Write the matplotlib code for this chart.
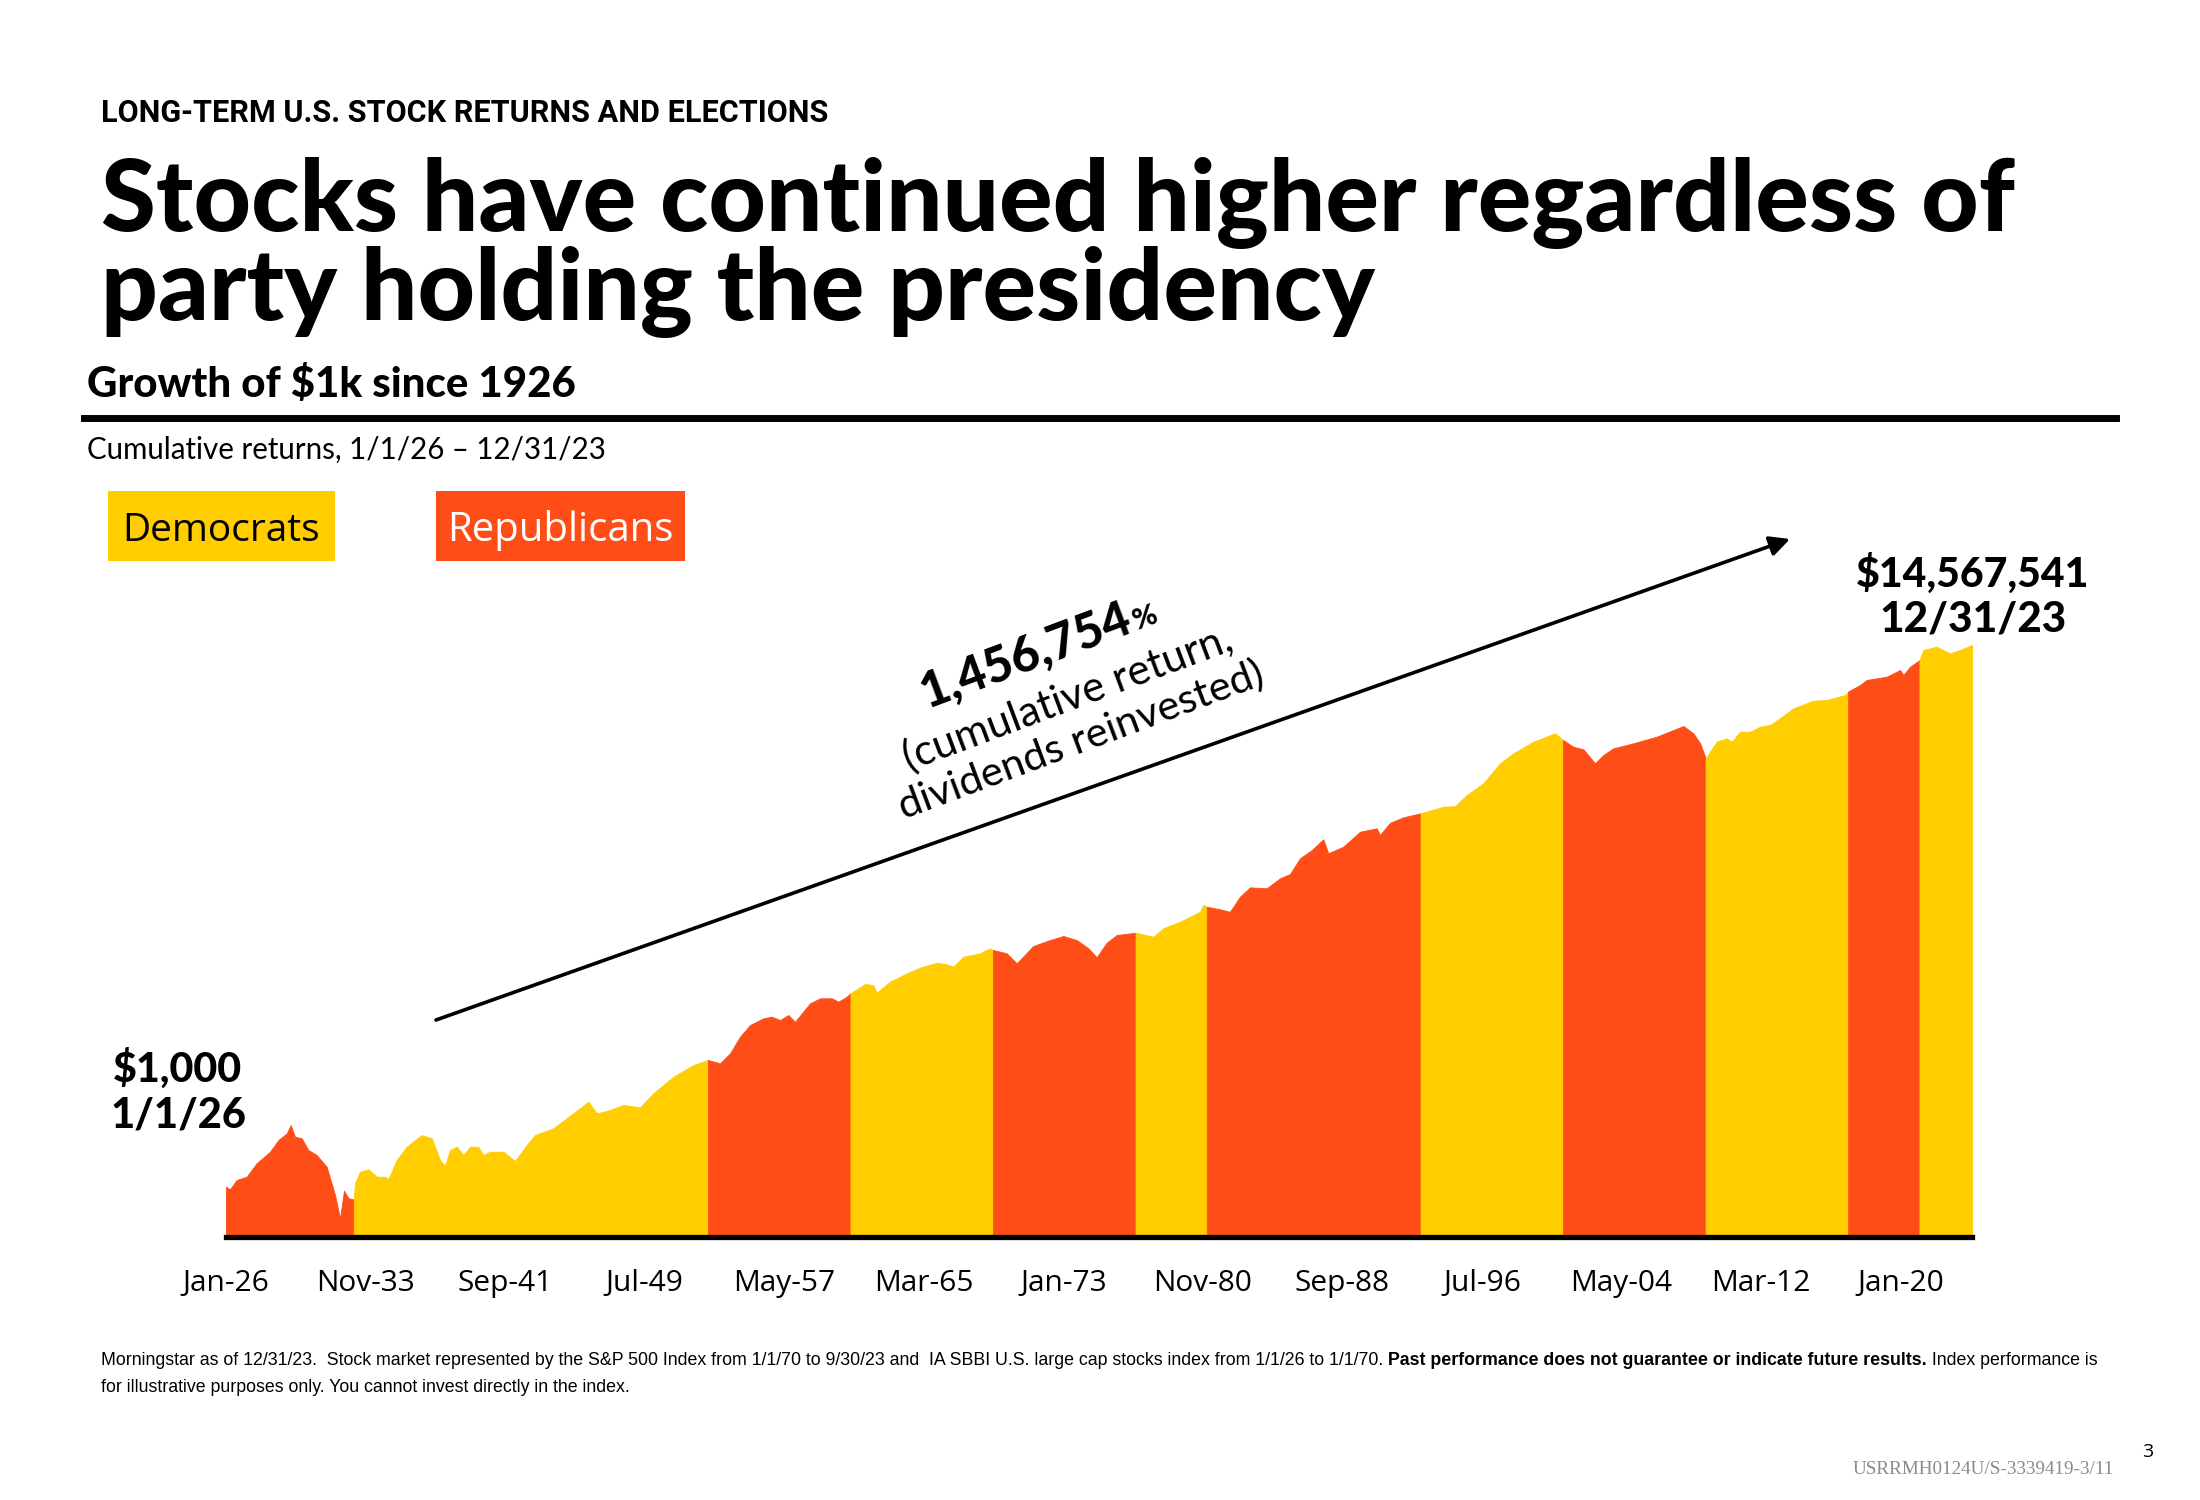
import numpy as np
import matplotlib
matplotlib.use("Agg")
import matplotlib.pyplot as plt
from matplotlib.patches import Rectangle, FancyArrowPatch
from matplotlib.lines import Line2D

# growth of $1k (decimal year, dollars)
years = np.array([
    1926.00, 1926.22, 1926.60, 1927.16, 1927.72, 1928.47, 1928.94, 1929.41, 1929.63, 1929.87,
    1930.25, 1930.62, 1931.09, 1931.65, 1932.12, 1932.40, 1932.62, 1932.87, 1933.17,
    1933.24, 1933.52, 1933.99, 1934.46, 1934.92, 1935.11, 1935.58, 1936.14, 1936.98, 1937.55,
    1938.01, 1938.29, 1938.57, 1938.95, 1939.32, 1939.70, 1940.16, 1940.44, 1940.82, 1941.57,
    1942.22, 1942.88, 1943.34, 1944.37, 1945.12, 1945.87, 1946.34, 1946.81, 1947.37, 1948.30,
    1949.24, 1949.98, 1951.11, 1952.23, 1953.05,
    1953.73, 1954.29, 1954.85, 1955.41, 1956.16, 1956.63, 1957.10, 1957.56, 1957.94, 1958.78,
    1959.34, 1960.00, 1960.37, 1960.84, 1961.05,
    1961.87, 1962.33, 1962.52, 1963.27, 1964.21, 1964.95, 1965.89, 1966.45, 1966.82, 1967.38,
    1968.32, 1968.88, 1969.05,
    1969.82, 1970.38, 1971.31, 1972.25, 1973.00, 1973.75, 1974.40, 1974.87, 1975.43, 1976.00,
    1977.05,
    1978.05, 1978.61, 1979.55, 1980.67, 1980.86, 1981.05,
    1981.79, 1982.35, 1982.91, 1983.48, 1984.41, 1985.16, 1985.72, 1986.28, 1986.94, 1987.59,
    1987.87, 1988.71, 1989.65, 1990.59, 1990.77, 1991.34, 1992.08, 1993.05,
    1994.33, 1994.98, 1995.64, 1996.57, 1997.51, 1998.26, 1999.38, 2000.60, 2001.05,
    2001.62, 2002.19, 2002.84, 2003.31, 2003.87, 2004.99, 2006.30, 2007.24, 2007.80, 2008.36,
    2008.74, 2009.05,
    2009.11, 2009.67, 2010.23, 2010.51, 2010.98, 2011.54, 2012.10, 2012.66, 2013.22, 2013.97,
    2015.09, 2015.84, 2016.87, 2017.05,
    2017.71, 2018.08, 2018.65, 2019.21, 2019.96, 2020.15, 2020.52, 2020.80, 2021.05,
    2021.27, 2022.01, 2022.76, 2023.32, 2024.00,
])
values = np.array([
    1000, 955, 1126, 1194, 1514, 1858, 2285, 2572, 2979, 2422,
    2355, 1914, 1753, 1425, 863, 571, 932, 815, 800,
    1062, 1304, 1360, 1194, 1194, 1140, 1604, 2028, 2494, 2355,
    1604, 1443, 1914, 2028, 1753, 2028, 2028, 1753, 1858, 1858,
    1576, 2092, 2494, 2811, 3357, 4008, 4502, 3666, 3818, 4245,
    4078, 5224, 7006, 8610, 9419,
    8883, 10600, 14220, 17490, 19690, 20270, 19100, 20870, 18520, 25690,
    28060, 28060, 26420, 28870, 30660,
    36140, 35500, 30970, 37640, 43650, 48190, 52700, 51200, 49080, 58610,
    62230, 68000, 66000,
    62230, 52130, 70830, 78700, 84530, 78700, 68000, 57980, 75060, 86050,
    89560,
    83470, 96880, 108800, 129900, 146300, 141900,
    135600, 129900, 169400, 200000, 196700, 234700, 253200, 334200, 387100, 467900,
    365200, 410600, 535500, 568600, 504700, 627500, 690400, 741300,
    833400, 841000, 1025000, 1261000, 1797000, 2145000, 2633000, 3055000, 2713000,
    2410000, 2301000, 1797000, 2081000, 2343000, 2560000, 2877000, 3239000, 3476000, 3055000,
    2560000, 1963000,
    2019000, 2633000, 2797000, 2633000, 3141000, 3141000, 3433000, 3539000, 3984000, 4754000,
    5440000, 5510000, 6012000, 6400000,
    7180000, 7850000, 8087000, 8318000, 9366000, 8570000, 9935000, 10550000, 11170000,
    13340000, 14150000, 12590000, 13340000, 14567541,
])

# party holding the presidency
term_starts = [1926.00, 1933.17, 1953.05, 1961.05, 1969.05, 1977.05, 1981.05,
               1993.05, 2001.05, 2009.05, 2017.05, 2021.05]
term_ends = term_starts[1:] + [2024.00]
term_party = ["R", "D", "R", "D", "R", "D", "R", "D", "R", "D", "R", "D"]

tick_labels = ["Jan-26", "Nov-33", "Sep-41", "Jul-49", "May-57", "Mar-65", "Jan-73",
               "Nov-80", "Sep-88", "Jul-96", "May-04", "Mar-12", "Jan-20"]

YELLOW = "#FFCD00"
RED = "#FF4D17"
party_color = {"D": YELLOW, "R": RED}

MONTHS = ["Jan", "Feb", "Mar", "Apr", "May", "Jun", "Jul", "Aug", "Sep", "Oct", "Nov", "Dec"]

HEAVY = ["Lato Black", "Lato"]
NARROW = ["Liberation Sans Narrow", "Liberation Sans"]


def label_to_year(lab):
    mon, yy = lab.split("-")
    yy = int(yy)
    year = 1900 + yy if yy >= 26 else 2000 + yy
    return year + MONTHS.index(mon) / 12


W, H = 2200, 1500


def fx(x):
    return x / W


def fy(y):
    return 1 - y / H


fig = plt.figure(figsize=(22, 15), dpi=100)
fig.patch.set_facecolor("white")
renderer = fig.canvas.get_renderer()


def fit(t, width):
    w = t.get_window_extent(renderer).width
    t.set_fontsize(t.get_fontsize() * width / w)
    return t


# header
fit(fig.text(fx(101), fy(122), "LONG-TERM U.S. STOCK RETURNS AND ELECTIONS",
             family="Roboto", weight="bold", size=19, va="baseline"), 727)
t1 = fit(fig.text(fx(101), fy(231), "Stocks have continued higher regardless of",
                  family=HEAVY, weight="black", size=66, va="baseline"), 1913)
fig.text(fx(101), fy(320), "party holding the presidency",
         family=HEAVY, weight="black", size=t1.get_fontsize(), va="baseline")
fit(fig.text(fx(87), fy(397), "Growth of $1k since 1926",
             family=HEAVY, weight="black", size=27, va="baseline"), 488)
fig.add_artist(Line2D([fx(84), fx(2116)], [fy(418), fy(418)], lw=5, color="black"))
fit(fig.text(fx(87), fy(459), "Cumulative returns, 1/1/26 \u2013 12/31/23",
             family="Lato", size=20, va="baseline"), 520)

# legend boxes
fig.add_artist(Rectangle((fx(108), fy(561)), fx(335) - fx(108), (561 - 491) / H,
                         transform=fig.transFigure, color=YELLOW, lw=0))
fig.add_artist(Rectangle((fx(436), fy(561)), fx(685) - fx(436), (561 - 491) / H,
                         transform=fig.transFigure, color=RED, lw=0))
fit(fig.text(fx(221.5), fy(541), "Democrats", family="Open Sans", size=26,
             ha="center", va="baseline", color="black"), 198)
fit(fig.text(fx(560.5), fy(541), "Republicans", family="Open Sans", size=26,
             ha="center", va="baseline", color="white"), 227)

# chart
ax = fig.add_axes([fx(226), fy(1237), fx(1972) - fx(226), (1237 - 540) / H])
ax.set_yscale("log")
for s, e, p in zip(term_starts, term_ends, term_party):
    m = (years >= s - 1e-6) & (years <= e + 1e-6)
    c = party_color[p]
    ax.fill_between(years[m], values[m], 1, color=c, ec=c, lw=0.6)

ax.set_xlim(1926, 2024)
ax.set_ylim(10 ** (3 - 50.3 / 130.1), 10 ** (3 + 646.7 / 130.1))
for side in ["top", "left", "right"]:
    ax.spines[side].set_visible(False)
ax.spines["bottom"].set_linewidth(3.8)
ax.spines["bottom"].set_color("black")
ax.set_yticks([])
ax.yaxis.set_minor_locator(matplotlib.ticker.NullLocator())
ax.set_xticks([label_to_year(l) for l in tick_labels])
ax.set_xticklabels(tick_labels, family="Open Sans", size=21.5)
ax.tick_params(axis="x", length=0, pad=23)
ax.set_facecolor("none")

# start / end labels
fit(fig.text(fx(177.5), fy(1082), "$1,000", family=HEAVY, weight="black",
             size=29, ha="center", va="baseline"), 129)
fit(fig.text(fx(178), fy(1127), "1/1/26", family=HEAVY, weight="black",
             size=29, ha="center", va="baseline"), 136)
fit(fig.text(fx(1973), fy(587), "$14,567,541", family=HEAVY, weight="black",
             size=29, ha="center", va="baseline"), 233)
fit(fig.text(fx(1973), fy(632), "12/31/23", family=HEAVY, weight="black",
             size=29, ha="center", va="baseline"), 187)

# arrow
fig.add_artist(FancyArrowPatch(posA=(fx(436), fy(1020)), posB=(fx(1790), fy(539)),
                               transform=fig.transFigure, arrowstyle="-|>",
                               mutation_scale=30, lw=2.6, color="black",
                               shrinkA=0, shrinkB=0))

# rotated annotation
ang = 20.5
num = fit(fig.text(fx(927), fy(708), "1,456,754", family=HEAVY, weight="black",
                   size=36, ha="left", va="baseline", rotation_mode="anchor"), 222)
wnum = num.get_window_extent(renderer).width
num.set_rotation(ang)
px_ = 927 + (wnum + 2) * np.cos(np.radians(ang))
py_ = 708 - (wnum + 2) * np.sin(np.radians(ang))
fig.text(fx(px_), fy(py_), "%", family=HEAVY, weight="black",
         size=num.get_fontsize() * 0.6, ha="left", va="baseline",
         rotation=ang, rotation_mode="anchor")
for txt, cx, cy, wd in [("(cumulative return,", 1072, 710, 350),
                        ("dividends reinvested)", 1085, 752, 388)]:
    t = fit(fig.text(fx(cx), fy(cy), txt, family="Lato", size=25,
                     ha="center", va="baseline", rotation_mode="anchor"), wd)
    t.set_rotation(ang)

# footnote
parts = [
    ("Morningstar as of 12/31/23.  Stock market represented by the S&P 500 Index from 1/1/70 "
     "to 9/30/23 and  IA SBBI U.S. large cap stocks index from 1/1/26 to 1/1/70. ", "normal"),
    ("Past performance does not guarantee or indicate future results.", "bold"),
    (" Index performance is", "normal"),
]
fn_texts = [fig.text(0, fy(1365), p, family=NARROW, weight=w, size=13.5, va="baseline")
            for p, w in parts]
total = sum(t.get_window_extent(renderer).width for t in fn_texts)
for t in fn_texts:
    t.set_fontsize(t.get_fontsize() * 1990 / total)
x = 101
for t in fn_texts:
    t.set_x(fx(x))
    x += t.get_window_extent(renderer).width
fig.text(fx(101), fy(1392), "for illustrative purposes only. You cannot invest directly in the index.",
         family=NARROW, size=fn_texts[0].get_fontsize(), va="baseline")

fig.text(fx(2148), fy(1452), "3", family="Open Sans", size=14, ha="center", va="center")
fit(fig.text(fx(2114), fy(1474), "USRRMH0124U/S-3339419-3/11", family="Liberation Serif",
             size=11, ha="right", va="baseline", color="#8a8a8a"), 262)

fig.savefig("out.png", dpi=100, facecolor="white")
